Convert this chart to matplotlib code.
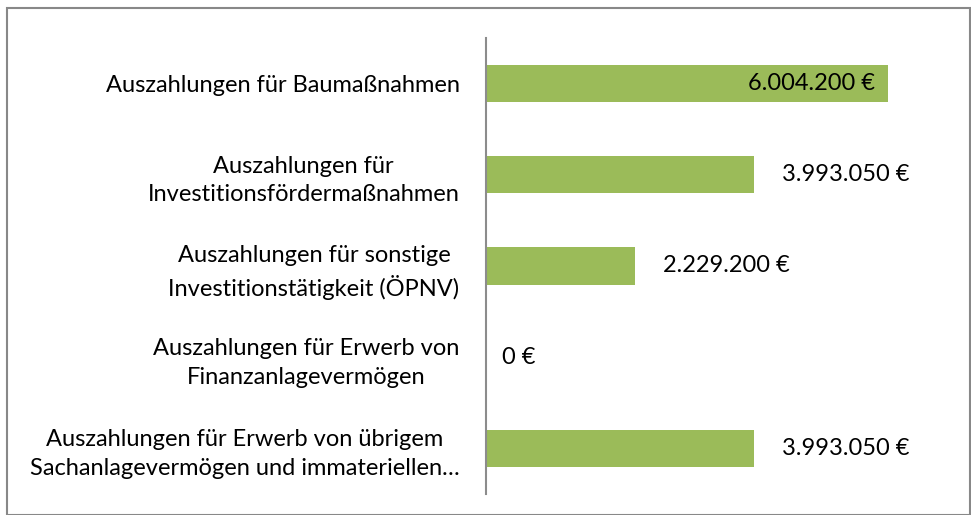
import matplotlib
matplotlib.use("Agg")
import matplotlib.pyplot as plt
from matplotlib.patches import Rectangle

plt.rcParams['font.family'] = ['Lato', 'DejaVu Sans']

categories = [
    'Auszahlungen für Baumaßnahmen',
    'Auszahlungen für\nInvestitionsfördermaßnahmen',
    'Auszahlungen für sonstige\nInvestitionstätigkeit (ÖPNV)',
    'Auszahlungen für Erwerb von\nFinanzanlagevermögen',
    'Auszahlungen für Erwerb von übrigem\nSachanlagevermögen und immateriellen…',
]
values = [6004200, 3993050, 2229200, 0, 3993050]
value_labels = ['6.004.200 €', '3.993.050 €', '2.229.200 €', '0 €', '3.993.050 €']

W, H = 971, 515
fig = plt.figure(figsize=(W / 100, H / 100), dpi=100)
ax = fig.add_axes([486 / W, 1 - 494 / H, (955 - 486) / W, (494 - 38) / H])

ypos = list(range(len(categories)))
ax.barh(ypos, values, height=0.41, color='#9BBB59')
ax.set_ylim(len(categories) - 0.5, -0.5)
ax.set_xlim(0, 7000000)

ax.set_yticks(ypos)
ax.set_yticklabels(categories, fontsize=17)
for lab in ax.get_yticklabels():
    lab.set_multialignment('center')
    lab.set_linespacing(1.45)
ax.tick_params(axis='y', length=0, pad=19)
ax.set_xticks([])

for s in ['top', 'right', 'bottom']:
    ax.spines[s].set_visible(False)
ax.spines['left'].set_color('#8c8c8c')
ax.spines['left'].set_linewidth(1.5)

for i, (v, t) in enumerate(zip(values, value_labels)):
    if i == 0:
        ax.annotate(t, (v, i), xytext=(-13, 0), textcoords='offset pixels',
                    ha='right', va='center', fontsize=17)
    else:
        ax.annotate(t, (v, i), xytext=(28 if v > 0 else 16, 0),
                    textcoords='offset pixels', ha='left', va='center', fontsize=17)

fig.patches.append(Rectangle((7 / W, 0), (970 - 7) / W, 1 - 8 / H,
                             transform=fig.transFigure, fill=False,
                             edgecolor='#888888', linewidth=1.5))

fig.savefig('out.png', dpi=100)
